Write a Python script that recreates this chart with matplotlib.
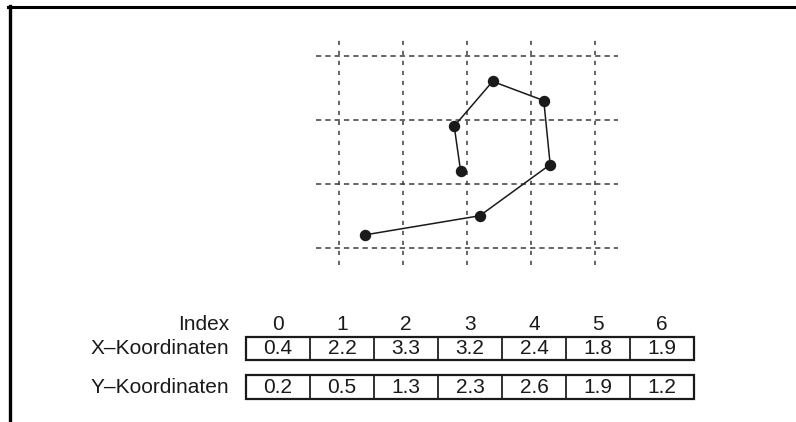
import matplotlib
matplotlib.use("Agg")
import matplotlib.pyplot as plt
from matplotlib.patches import Rectangle
from matplotlib.lines import Line2D

# Point data
index = [0, 1, 2, 3, 4, 5, 6]
x_coords = [0.4, 2.2, 3.3, 3.2, 2.4, 1.8, 1.9]
y_coords = [0.2, 0.5, 1.3, 2.3, 2.6, 1.9, 1.2]
grid_x = [0, 1, 2, 3, 4]
grid_y = [0, 1, 2, 3]
row_labels = ["Index", "X\u2013Koordinaten", "Y\u2013Koordinaten"]

plt.rcParams["font.family"] = ["Liberation Sans", "DejaVu Sans"]
plt.rcParams["lines.scale_dashes"] = False

W, H = 796, 422
fig = plt.figure(figsize=(W / 100, H / 100), dpi=100)
fig.patch.set_facecolor("white")


def box(left, top, right, bottom):
    return [left / W, 1 - bottom / H, (right - left) / W, (bottom - top) / H]


# Outer frame (left and top edges)
fig.add_artist(Line2D([9.5 / W, 9.5 / W], [0, 1 - 6 / H], color="black",
                      lw=2.4, transform=fig.transFigure))
fig.add_artist(Line2D([8 / W, 1], [1 - 7 / H, 1 - 7 / H], color="black",
                      lw=2.2, transform=fig.transFigure))

# Plot area
ax = fig.add_axes(box(316, 36, 618, 265))
xmin, xmax = -0.36, 4.36
ymin, ymax = -0.27, 3.31
ax.set_xlim(xmin, xmax)
ax.set_ylim(ymin, ymax)
ax.axis("off")

grid_color = "#3c3c3c"
ax.hlines(grid_y, xmin, xmax, colors=grid_color, lw=1.1,
          linestyles=[(0, (3.8, 2.9))])
ax.vlines(grid_x, ymin, ymax, colors=grid_color, lw=1.1,
          linestyles=[(0, (3.0, 4.2))])

ax.plot(x_coords, y_coords, color="#1a1a1a", lw=1.1, zorder=3)
ax.plot(x_coords, y_coords, "o", color="#1a1a1a", ms=7.2, zorder=4)

# Table
tax = fig.add_axes([0, 0, 1, 1])
tax.set_xlim(0, W)
tax.set_ylim(H, 0)
tax.axis("off")

cell_left, cell_w = 246, 64
label_x = 229
index_y = 324
rows = [(x_coords, 337, 360), (y_coords, 375, 399)]
fs = 15

tax.text(label_x, index_y, row_labels[0], ha="right", va="center",
         fontsize=fs, color="#1a1a1a")
for i in index:
    tax.text(cell_left + cell_w * (i + 0.5), index_y, str(i), ha="center",
             va="center", fontsize=fs, color="#1a1a1a")

for (values, top, bottom), label in zip(rows, row_labels[1:]):
    mid = (top + bottom) / 2
    tax.text(label_x, mid + 0.5, label, ha="right", va="center",
             fontsize=fs, color="#1a1a1a")
    for i, v in zip(index, values):
        tax.add_patch(Rectangle((cell_left + cell_w * i, top), cell_w,
                                bottom - top, fill=False, ec="#2a2a2a",
                                lw=1.1))
        tax.text(cell_left + cell_w * (i + 0.5), mid + 0.5, f"{v:.1f}",
                 ha="center", va="center", fontsize=fs, color="#1a1a1a")
    tax.add_patch(Rectangle((cell_left, top), cell_w * len(index),
                            bottom - top, fill=False, ec="#1a1a1a", lw=1.6))

fig.savefig("out.png", dpi=100, facecolor="white")
